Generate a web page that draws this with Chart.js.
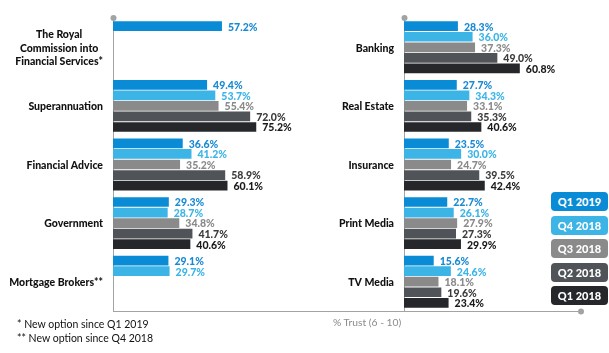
<!DOCTYPE html>
<html>
<head>
<meta charset="utf-8">
<script src="https://cdn.jsdelivr.net/npm/chart.js@4.4.1/dist/chart.umd.min.js"></script>
<style>
    body { margin: 0; background: #fff; }
    #wrap { position: relative; width: 609px; height: 353px; overflow: hidden; font-family: Lato, sans-serif; }
    #leftChart { position: absolute; left: 0; top: 0; }
    #rightChart { position: absolute; left: 310px; top: 0; }
    .legend-box {
        position: absolute; left: 551px; width: 57px; height: 19px; border-radius: 4px;
        color: #fff; font-weight: 900; font-size: 11px; line-height: 19px; text-align: center;
    }
    .note { position: absolute; left: 17px; font-size: 10.5px; color: #111; }
    #axisTitle { position: absolute; left: 333px; top: 316px; font-size: 10.3px; color: #8a8a8a; }
</style>
</head>
<body>
<div id="wrap">
    <canvas id="leftChart" width="310" height="320"></canvas>
    <canvas id="rightChart" width="299" height="320"></canvas>
    <div id="legend"></div>
    <div id="axisTitle">% Trust (6 - 10)</div>
    <div class="note" style="top:318px">* New option since Q1 2019</div>
    <div class="note" style="top:332px">** New option since Q4 2018</div>
</div>
<script>
// Series (newest first, same order as the legend)
const seriesNames = ['Q1 2019', 'Q4 2018', 'Q3 2018', 'Q2 2018', 'Q1 2018'];
const barColors = ['#0a8bd6', '#3cb4e6', '#8a8a8a', '#505357', '#25272a'];
const valueColors = ['#1a8ad4', '#3cb4e6', '#8a8a8a', '#3c3c3c', '#1a1a1a'];

// Left panel
const leftCategories = [['The Royal', 'Commission into', 'Financial Services*'], 'Superannuation', 'Financial Advice', 'Government', 'Mortgage Brokers**'];
const leftQ1_2019 = [57.2, 49.4, 36.6, 29.3, 29.1];
const leftQ4_2018 = [null, 53.7, 41.2, 28.7, 29.7];
const leftQ3_2018 = [null, 55.4, 35.2, 34.8, null];
const leftQ2_2018 = [null, 72.0, 58.9, 41.7, null];
const leftQ1_2018 = [null, 75.2, 60.1, 40.6, null];

// Right panel
const rightCategories = ['Banking', 'Real Estate', 'Insurance', 'Print Media', 'TV Media'];
const rightQ1_2019 = [28.3, 27.7, 23.5, 22.7, 15.6];
const rightQ4_2018 = [36.0, 34.3, 30.0, 26.1, 24.6];
const rightQ3_2018 = [37.3, 33.1, 24.7, 27.9, 18.1];
const rightQ2_2018 = [49.0, 35.3, 39.5, 27.3, 19.6];
const rightQ1_2018 = [60.8, 40.6, 42.4, 29.9, 23.4];

const axisGrey = '#a3a3a3';
const fontFamily = 'Lato, sans-serif';

// Etiquetas de valor al final de cada barra
const valueLabels = {
    id: 'valueLabels',
    afterDatasetsDraw(chart) {
        const ctx = chart.ctx;
        ctx.save();
        ctx.font = `900 10.5px ${fontFamily}`;
        ctx.textAlign = 'left';
        ctx.textBaseline = 'middle';
        chart.data.datasets.forEach((ds, i) => {
            const meta = chart.getDatasetMeta(i);
            meta.data.forEach((bar, j) => {
                const v = ds.data[j];
                if (v === null || v === undefined) return;
                ctx.fillStyle = valueColors[i];
                ctx.fillText(v.toFixed(1) + '%', bar.x + 6, bar.y + 1);
            });
        });
        ctx.restore();
    }
};

// Category labels: right edge fixed, multi-line labels centred within their block
const categoryLabels = {
    id: 'categoryLabels',
    afterDraw(chart) {
        const ctx = chart.ctx;
        const yScale = chart.scales.y;
        const rightEdge = yScale.right - 10;
        ctx.save();
        ctx.font = `900 10.5px ${fontFamily}`;
        ctx.fillStyle = '#111';
        ctx.textBaseline = 'middle';
        chart.data.labels.forEach((label, i) => {
            const y = yScale.getPixelForTick(i);
            const lines = Array.isArray(label) ? label : [label];
            const widest = Math.max(...lines.map(l => ctx.measureText(l).width));
            const lineH = 13.5;
            const y0 = y - (lines.length - 1) * lineH / 2;
            ctx.textAlign = 'center';
            lines.forEach((l, k) => ctx.fillText(l, rightEdge - widest / 2, y0 + k * lineH + 1));
        });
        ctx.restore();
    }
};

// Axis decorations: dot at the top of the vertical axis, the shared baseline and its end dot
function axisDecor(drawLineFrom, lineTo, endDot) {
    return {
        id: 'axisDecor',
        afterDraw(chart) {
            const ctx = chart.ctx;
            const area = chart.chartArea;
            ctx.save();
            ctx.fillStyle = axisGrey;
            ctx.strokeStyle = axisGrey;
            ctx.lineWidth = 1;
            ctx.beginPath();
            ctx.arc(area.left + 0.5, area.top, 3, 0, Math.PI * 2);
            ctx.fill();
            const from = drawLineFrom === null ? area.left : drawLineFrom;
            ctx.beginPath();
            ctx.moveTo(from, Math.round(area.bottom) + 0.5);
            ctx.lineTo(lineTo, Math.round(area.bottom) + 0.5);
            ctx.stroke();
            if (endDot) {
                ctx.beginPath();
                ctx.arc(lineTo, Math.round(area.bottom) + 0.5, 3, 0, Math.PI * 2);
                ctx.fill();
            }
            ctx.restore();
        }
    };
}

function buildDatasets(arrays) {
    return arrays.map((data, i) => ({
        label: seriesNames[i],
        data: data,
        backgroundColor: barColors[i],
        borderWidth: 0,
        categoryPercentage: 0.9,
        barPercentage: 0.92
    }));
}

function makeChart(canvasId, labels, arrays, axisWidth, padRight, decor) {
    const ctx = document.getElementById(canvasId).getContext('2d');
    return new Chart(ctx, {
        type: 'bar',
        data: { labels: labels, datasets: buildDatasets(arrays) },
        options: {
            indexAxis: 'y',
            responsive: false,
            animation: false,
            events: [],
            layout: { padding: { top: 18, bottom: 9, left: 0, right: padRight } },
            plugins: { legend: { display: false }, tooltip: { enabled: false } },
            scales: {
                x: { display: false, min: 0, max: 100 },
                y: {
                    grid: { display: false, drawTicks: false },
                    border: { display: true, color: axisGrey, width: 1 },
                    ticks: { display: false },
                    afterFit(scale) { scale.width = axisWidth; }
                }
            }
        },
        plugins: [valueLabels, categoryLabels, decor]
    });
}

// Left panel: axis at x=113, baseline continues to the canvas edge
makeChart('leftChart', leftCategories,
    [leftQ1_2019, leftQ4_2018, leftQ3_2018, leftQ2_2018, leftQ1_2018],
    113, 6.5, axisDecor(null, 310, false));

// Right panel: canvas starts at x=310, axis at x=404, baseline ends at x=581
makeChart('rightChart', rightCategories,
    [rightQ1_2019, rightQ4_2018, rightQ3_2018, rightQ2_2018, rightQ1_2018],
    94, 14.5, axisDecor(0, 271, true));

// Legend boxes
const legend = document.getElementById('legend');
seriesNames.forEach((name, i) => {
    const box = document.createElement('div');
    box.className = 'legend-box';
    box.style.top = (192 + i * 23.5) + 'px';
    box.style.background = barColors[i];
    box.textContent = name;
    legend.appendChild(box);
});
</script>
</body>
</html>
